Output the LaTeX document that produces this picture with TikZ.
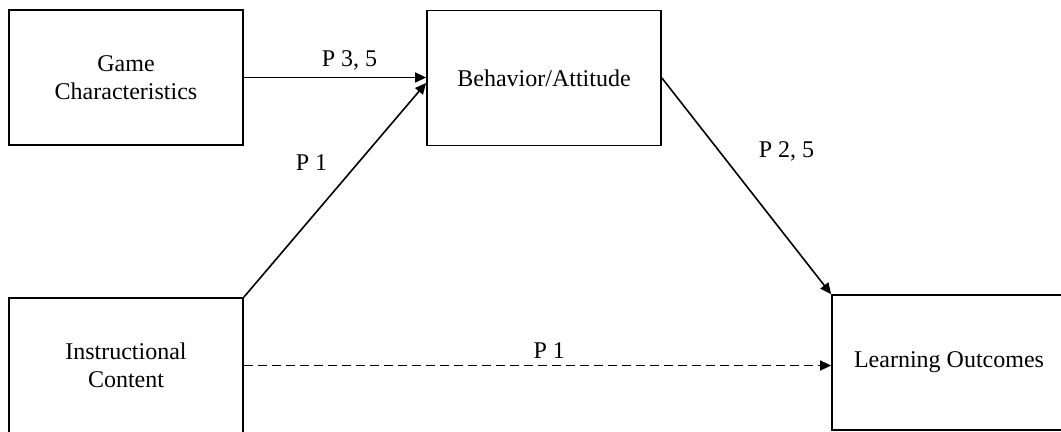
\documentclass[tikz,border=0pt]{standalone}
\usepackage{fontspec}
\setmainfont{Liberation Serif}
\usetikzlibrary{arrows.meta}
\tikzset{
  varbox/.style={draw, line width=0.9pt, minimum width=117pt, minimum height=67.5pt, align=center, font=\fontsize{12}{14}\selectfont},
  plabel/.style={font=\fontsize{12}{14}\selectfont},
  link/.style={line width=0.8pt, -{Triangle[length=5.5pt,width=5pt]}}
}

\begin{document}
\begin{tikzpicture}[x=0.5pt,y=-0.5pt]
        \useasboundingbox (0,0) rectangle (1061,432);
        %nodes
        \node[varbox] (game) at (126,77.5) {Game\\Characteristics};
        \node[varbox] (behav) at (544,78) {Behavior/Attitude};
        \node[varbox] (instr) at (126,365.5) {Instructional\\Content};
        \node[varbox] (learn) at (949,362.5) {Learning Outcomes};
        \coordinate (p1end) at ([yshift=-2.5pt]behav.west);
        %edges
        \draw[link] (game.east) -- node[plabel, above, pos=0.58] {P 3, 5} (game.east -| behav.west);
        \draw[link] (instr.north east) -- node[plabel, pos=0.63, left=12pt] {P 1} (p1end);
        \draw[link] (behav.east) -- node[plabel, pos=0.34, right=16pt] {P 2, 5} (learn.north west);
        \draw[link, dash pattern=on 4.5pt off 2.5pt] (instr.east) -- node[plabel, above, pos=0.52] {P 1} (instr.east -| learn.west);
\end{tikzpicture}
\end{document}
